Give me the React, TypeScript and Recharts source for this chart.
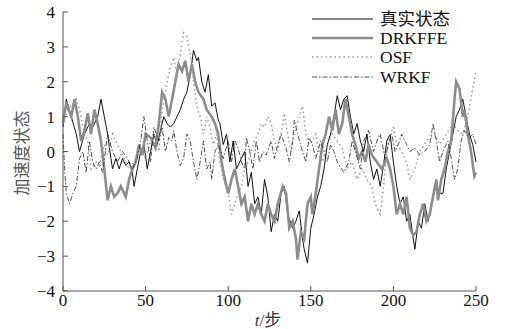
import { LineChart, Line, XAxis, YAxis } from 'recharts';

type Pt = [number, number];

// 横轴和纵轴刻度
const xTicks = [0, 50, 100, 150, 200, 250];
const yTicks = [-4, -3, -2, -1, 0, 1, 2, 3, 4];

// 真实状态 [t, value]
const truthPts: Pt[] = [
  [0, 0.7], [2, 1.5], [5, 1.0], [8, 0.5], [10, 0.0], [13, 0.5], [16, 0.8], [18, 0.7], [21, 1.0], [23, 1.5],
  [25, 1.0], [27, 0.5], [29, -0.2], [30, -0.5], [32, -0.2], [34, -0.5], [36, -0.2], [38, -0.4], [40, -0.3],
  [42, -0.6], [43, -1.0], [45, -0.5], [47, 0.0], [49, 0.2], [51, -0.5], [53, 0.0], [55, 0.5], [57, 0.2],
  [59, 0.6], [61, 1.0], [63, 0.8], [65, 0.7], [67, 0.8], [69, 1.0], [71, 1.2], [73, 1.5], [75, 1.7],
  [77, 2.2], [79, 2.9], [81, 2.6], [82, 2.7], [84, 2.0], [86, 1.7], [88, 2.2], [90, 1.3], [92, 1.4],
  [94, 0.9], [95, 0.8], [97, 0.2], [99, 0.5], [101, -0.3], [103, 0.3], [105, -0.5], [107, -0.3],
  [110, 0.0], [112, -1.0], [114, -0.6], [116, -1.5], [118, -1.3], [120, -1.8], [122, -0.8], [124, -1.3],
  [126, -2.3], [128, -1.8], [130, -2.0], [132, -1.2], [134, -1.0], [136, -1.8], [139, -2.2], [141, -2.0],
  [143, -1.7], [145, -2.5], [146, -2.8], [148, -3.2], [150, -2.2], [152, -1.8], [154, -1.3], [156, -1.0],
  [158, -0.5], [160, 0.2], [162, 0.5], [164, 1.0], [166, 1.6], [168, 1.2], [170, 1.5], [172, 1.6],
  [174, 1.0], [176, 0.5], [178, 0.8], [180, 0.3], [182, 0.0], [184, 0.5], [186, -0.3], [188, -0.8],
  [190, -0.5], [192, -1.0], [194, -0.4], [196, 0.3], [198, 0.5], [200, -0.3], [202, -1.0], [204, -1.5],
  [206, -1.3], [208, -2.0], [210, -1.8], [212, -2.5], [213, -2.8], [215, -2.0], [217, -2.2], [219, -1.5],
  [221, -2.0], [223, -1.5], [225, -1.0], [227, -1.2], [230, -1.2], [232, -0.5], [234, 0.0], [236, 0.5],
  [238, 1.0], [240, 1.2], [242, 1.5], [244, 1.0], [246, 0.5], [248, 0.2], [250, -0.3],
];

// DRKFFE 估计
const drkffePts: Pt[] = [
  [0, 0.8], [2, 1.4], [5, 1.0], [7, 1.5], [9, 1.0], [11, 0.3], [13, 0.6], [15, 1.1], [17, 0.5], [19, 1.2],
  [21, 0.8], [23, 0.3], [25, -0.5], [27, -1.4], [29, -1.0], [31, -1.3], [33, -1.2], [35, -1.0], [38, -1.3],
  [40, -0.8], [42, -0.5], [44, -0.3], [46, 0.2], [48, -0.1], [50, 0.5], [53, 0.4], [56, 0.1], [58, 0.8],
  [60, 1.7], [62, 1.5], [64, 1.0], [66, 1.5], [68, 2.0], [70, 2.5], [72, 2.3], [74, 2.6], [76, 2.0],
  [78, 2.5], [80, 2.0], [82, 1.7], [85, 1.5], [87, 1.2], [90, 1.0], [92, 0.8], [94, 0.5], [96, -0.3],
  [98, -0.8], [100, -1.2], [102, -0.8], [104, -0.5], [106, -1.0], [108, -1.5], [110, -1.3], [112, -2.0],
  [114, -1.5], [116, -1.8], [118, -1.5], [120, -1.8], [122, -2.0], [124, -1.5], [126, -1.8], [128, -2.0],
  [130, -1.5], [133, -1.0], [135, -1.2], [137, -2.2], [139, -2.0], [141, -2.5], [142, -3.1], [144, -2.3],
  [146, -2.5], [148, -1.5], [150, -1.3], [151, -1.8], [153, -1.2], [155, -0.5], [157, 0.2], [159, 0.5],
  [161, 1.0], [163, 0.6], [165, 1.2], [167, 0.5], [169, 0.8], [171, 1.5], [173, 1.0], [175, 0.5],
  [177, 0.2], [179, -0.2], [181, 0.0], [183, -0.3], [185, 0.2], [187, -0.1], [190, -0.3], [193, -0.5],
  [196, -0.2], [198, -0.5], [200, -1.0], [202, -1.8], [204, -1.5], [206, -1.8], [208, -1.3], [210, -2.2],
  [212, -2.4], [214, -2.3], [216, -1.8], [218, -1.5], [220, -2.0], [222, -1.8], [224, -1.3], [226, -0.8],
  [227, -1.4], [229, -0.8], [231, -0.5], [233, 0.0], [235, 0.3], [237, 1.5], [238, 2.0], [240, 1.8],
  [242, 1.0], [243, 1.2], [245, 0.5], [247, 0.0], [249, -0.7], [250, -0.6],
];

// OSF 估计
const osfPts: Pt[] = [
  [0, 0.8], [3, 1.2], [8, 1.5], [10, 1.2], [13, 0.5], [15, 0.3], [17, -0.5], [20, -0.3], [22, -0.4],
  [25, 0.2], [27, -0.1], [30, 0.5], [32, 0.3], [35, 0.0], [38, -0.3], [40, -0.5], [43, -0.3], [46, 0.0],
  [48, 0.0], [50, -0.2], [53, 0.3], [56, 0.5], [58, 0.0], [60, 1.2], [63, 2.0], [65, 2.4], [67, 2.7],
  [69, 2.2], [71, 2.8], [73, 3.4], [75, 3.3], [77, 2.8], [79, 2.0], [81, 1.3], [83, 1.0], [85, 0.5],
  [87, 1.0], [89, 0.7], [91, 0.2], [93, 0.5], [95, -0.3], [97, -0.8], [100, -1.2], [102, -1.8],
  [104, -1.5], [106, -1.2], [108, -1.0], [110, -0.5], [112, -0.3], [114, 0.0], [116, 0.3], [118, 0.5],
  [120, 0.8], [122, 0.7], [124, 1.0], [126, 0.8], [128, 0.3], [130, 0.0], [132, 0.5], [134, 1.1],
  [136, 0.5], [138, 0.0], [140, 0.5], [143, 1.0], [145, 1.3], [147, 0.5], [149, 0.2], [151, 0.3],
  [153, 0.5], [155, 0.0], [157, -0.3], [160, 0.2], [163, 0.5], [166, 0.3], [169, 0.1], [172, -0.5],
  [175, -0.3], [178, -0.8], [181, -0.5], [184, -0.8], [187, -1.0], [189, -1.5], [192, -1.8], [194, -1.0],
  [196, 0.0], [198, 0.5], [200, 0.7], [202, 0.2], [205, 0.0], [208, -0.3], [210, -0.8], [213, -0.5],
  [216, 0.0], [220, 0.3], [225, 0.5], [228, 0.2], [232, 0.5], [236, 0.8], [239, 0.6], [242, 0.5],
  [245, 1.0], [248, 1.8], [250, 2.3],
];

// WRKF 估计
const wrkfPts: Pt[] = [
  [0, 0.5], [1, -0.5], [2, -1.2], [4, -1.5], [6, -1.2], [8, -1.0], [10, -0.2], [12, 0.0], [14, -0.6],
  [16, 0.3], [18, -0.3], [20, -0.5], [22, -0.3], [24, -0.6], [27, 0.5], [30, 0.0], [33, -0.3], [36, 0.0],
  [39, -0.2], [42, -0.5], [45, -0.2], [47, 0.3], [49, 1.0], [51, 0.3], [53, -0.3], [55, 0.7], [58, 0.3],
  [60, 0.7], [62, 0.0], [64, 0.4], [66, 0.3], [67, 0.6], [69, 0.0], [71, -0.4], [73, -0.2], [75, 0.5],
  [77, 0.3], [79, -0.3], [81, -0.8], [83, -0.3], [85, 0.3], [87, -0.5], [89, -0.3], [90, -0.8], [92, 0.0],
  [94, 0.2], [97, -0.2], [100, 0.3], [102, -0.3], [104, 0.3], [106, 0.1], [108, -0.3], [110, -0.5],
  [111, 0.4], [113, 0.0], [115, -0.5], [117, 0.3], [119, -0.3], [121, 0.0], [123, -0.1], [126, 0.3],
  [128, -0.2], [130, 0.2], [132, 0.5], [135, 0.1], [137, -0.3], [139, 0.3], [140, 0.9], [142, 0.5],
  [145, 0.0], [147, -0.3], [149, 0.4], [151, 0.2], [153, -0.2], [156, 0.3], [158, 0.0], [160, -0.3],
  [162, 0.2], [164, 0.0], [166, -0.3], [170, -0.6], [173, -0.3], [175, 0.3], [177, 0.0], [180, -0.5],
  [182, 0.3], [185, 0.6], [188, 0.0], [190, 0.3], [192, 0.5], [195, -0.2], [197, 0.2], [199, 0.5],
  [201, 0.0], [203, 0.2], [205, 0.5], [208, 0.2], [210, 0.0], [213, 0.1], [216, -0.1], [219, 0.0],
  [222, 0.2], [224, 0.8], [226, 0.3], [228, -0.3], [230, 0.0], [233, 0.3], [235, -0.2], [237, -0.8],
  [239, -0.5], [241, 0.3], [243, 0.6], [246, 0.4], [248, 0.5], [250, 0.2],
];

const toRows = (pts: Pt[]) => pts.map(([t, v]) => ({ t, v }));

const FONT = "'Times New Roman', 'Liberation Serif', 'Noto Sans CJK SC', serif";

// 负号用长减号显示
const fmtMinus = (v: number) => String(v).replace('-', '\u2212');

const series = [
  { name: '真实状态', rows: toRows(truthPts), color: '#111', width: 1, dash: undefined as string | undefined },
  { name: 'DRKFFE', rows: toRows(drkffePts), color: '#8c8c8c', width: 2.6, dash: undefined },
  { name: 'OSF', rows: toRows(osfPts), color: '#9a9a9a', width: 1.5, dash: '1.5 3' },
  { name: 'WRKF', rows: toRows(wrkfPts), color: '#222', width: 0.8, dash: '5 2 1.5 2' },
];

// 图例（右上角，叠在绘图区上）
function LegendBox() {
  return (
    <div style={{ position: 'absolute', left: 312, top: 9, fontFamily: FONT, fontSize: 17.5, color: '#111' }}>
      {series.map((s) => (
        <div key={s.name} style={{ display: 'flex', alignItems: 'center', height: 19.3, lineHeight: '18px' }}>
          <svg width={61} height={10} style={{ marginRight: 7 }}>
            <line x1={0} y1={5} x2={61} y2={5} stroke={s.color} strokeWidth={s.width} strokeDasharray={s.dash} />
          </svg>
          <span>{s.name}</span>
        </div>
      ))}
    </div>
  );
}

export default function App() {
  return (
    <div style={{ position: 'absolute', left: 0, top: 0, width: 506, height: 329, background: '#fff' }}>
      <LineChart width={506} height={329} margin={{ top: 12, right: 30, left: 0, bottom: 0 }}>
        <XAxis
          type="number"
          dataKey="t"
          domain={[0, 250]}
          ticks={xTicks}
          allowDuplicatedCategory={false}
          height={38}
          tickSize={-5}
          tickMargin={8}
          stroke="#555"
          tick={{ fill: '#111', fontSize: 17, fontFamily: FONT }}
        />
        <YAxis
          type="number"
          domain={[-4, 4]}
          ticks={yTicks}
          width={63}
          tickSize={-5}
          tickMargin={13}
          stroke="#555"
          tickFormatter={fmtMinus}
          tick={{ fill: '#111', fontSize: 17, fontFamily: FONT }}
        />
        {series.map((s) => (
          <Line
            key={s.name}
            data={s.rows}
            dataKey="v"
            name={s.name}
            type="linear"
            stroke={s.color}
            strokeWidth={s.width}
            strokeDasharray={s.dash}
            dot={false}
            isAnimationActive={false}
          />
        ))}
      </LineChart>
      <LegendBox />
      <div
        style={{
          position: 'absolute', left: 20, top: 153, transform: 'translate(-50%, -50%) rotate(-90deg)',
          whiteSpace: 'nowrap', fontFamily: FONT, fontSize: 17, color: '#555',
        }}
      >
        加速度状态
      </div>
      <div
        style={{
          position: 'absolute', left: 268, top: 318, transform: 'translate(-50%, -50%)',
          whiteSpace: 'nowrap', fontFamily: FONT, fontSize: 17, color: '#333',
        }}
      >
        <i>t</i>/步
      </div>
    </div>
  );
}
